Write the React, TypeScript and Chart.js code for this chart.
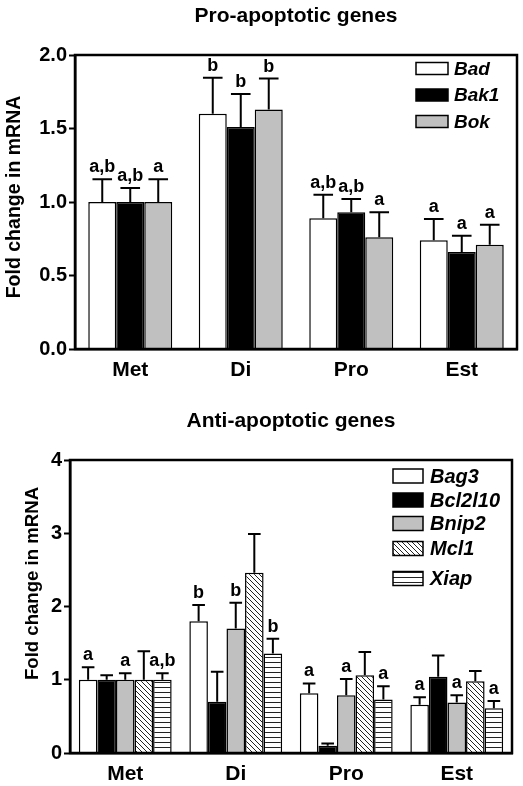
import React, { useEffect, useRef } from 'react';
import { Chart, registerables } from 'chart.js';

Chart.register(...registerables);

const FONT = '"Liberation Sans", Arial, Helvetica, sans-serif';

// ---------- data ----------
const categories = ['Met', 'Di', 'Pro', 'Est'];

// Pro-apoptotic genes
const proTitle = 'Pro-apoptotic genes';
const proGenes = ['Bad', 'Bak1', 'Bok'];
const badMean = [1.0, 1.6, 0.89, 0.74];
const badErr = [0.155, 0.245, 0.16, 0.145];
const badLetters = ['a,b', 'b', 'a,b', 'a'];
const bak1Mean = [1.0, 1.51, 0.93, 0.66];
const bak1Err = [0.095, 0.225, 0.09, 0.11];
const bak1Letters = ['a,b', 'b', 'a,b', 'a'];
const bokMean = [1.0, 1.63, 0.76, 0.71];
const bokErr = [0.155, 0.21, 0.17, 0.135];
const bokLetters = ['a', 'b', 'a', 'a'];
const proTicks = [0, 0.5, 1.0, 1.5, 2.0];

// Anti-apoptotic genes
const antiTitle = 'Anti-apoptotic genes';
const antiGenes = ['Bag3', 'Bcl2l10', 'Bnip2', 'Mcl1', 'Xiap'];
const bag3Mean = [1.0, 1.8, 0.815, 0.66];
const bag3Err = [0.17, 0.22, 0.135, 0.1];
const bag3Letters = ['a', 'b', 'a', 'a'];
const bcl2l10Mean = [1.0, 0.7, 0.1, 1.04];
const bcl2l10Err = [0.06, 0.41, 0.03, 0.29];
const bcl2l10Letters = ['', '', '', ''];
const bnip2Mean = [1.0, 1.7, 0.79, 0.69];
const bnip2Err = [0.09, 0.35, 0.22, 0.1];
const bnip2Letters = ['a', 'b', 'a', 'a'];
const mcl1Mean = [1.0, 2.46, 1.06, 0.98];
const mcl1Err = [0.39, 0.53, 0.32, 0.14];
const mcl1Letters = ['', '', '', ''];
const xiapMean = [1.0, 1.36, 0.73, 0.61];
const xiapErr = [0.09, 0.2, 0.18, 0.1];
const xiapLetters = ['a,b', 'b', 'a', 'a'];
const antiTicks = [0, 1, 2, 3, 4];

const yTitle = 'Fold change in mRNA';

// ---------- helpers ----------
function makePattern(ctx: CanvasRenderingContext2D, kind: 'diag' | 'horiz') {
  const c = document.createElement('canvas');
  const s = 5;
  c.width = s;
  c.height = s;
  const g = c.getContext('2d')!;
  g.fillStyle = '#ffffff';
  g.fillRect(0, 0, s, s);
  g.strokeStyle = '#222222';
  g.lineWidth = 1;
  g.beginPath();
  if (kind === 'diag') {
    g.moveTo(-1, -1);
    g.lineTo(s + 1, s + 1);
    g.moveTo(-1, s - 1);
    g.lineTo(1, s + 1);
    g.moveTo(s - 1, -1);
    g.lineTo(s + 1, 1);
  } else {
    g.moveTo(0, 2.5);
    g.lineTo(s, 2.5);
  }
  g.stroke();
  return ctx.createPattern(c, 'repeat')!;
}

const errorBarPlugin = {
  id: 'errorBars',
  afterDatasetsDraw(chart: any, _args: any, opts: any) {
    const { ctx } = chart;
    const yScale = chart.scales.y;
    chart.data.datasets.forEach((ds: any, i: number) => {
      const meta = chart.getDatasetMeta(i);
      meta.data.forEach((bar: any, j: number) => {
        const mean = ds.data[j];
        const err = ds.errors[j];
        const top = yScale.getPixelForValue(mean + err);
        const { x, y, width } = bar.getProps(['x', 'y', 'width'], true);
        const half = (width * opts.capRatio) / 2;
        ctx.save();
        ctx.strokeStyle = '#000';
        ctx.lineWidth = 2;
        ctx.beginPath();
        ctx.moveTo(x, y);
        ctx.lineTo(x, top);
        ctx.moveTo(x - half, top);
        ctx.lineTo(x + half, top);
        ctx.stroke();
        const letter = ds.letters[j];
        if (letter) {
          ctx.fillStyle = '#000';
          ctx.font = `bold ${opts.letterSize}px ${FONT}`;
          ctx.textAlign = 'center';
          ctx.textBaseline = 'alphabetic';
          ctx.fillText(letter, x, top - opts.letterGap);
        }
        ctx.restore();
      });
    });
  },
};

const framePlugin = {
  id: 'frame',
  afterDatasetsDraw(chart: any) {
    const { ctx, chartArea: a } = chart;
    ctx.save();
    ctx.strokeStyle = '#000';
    ctx.lineWidth = 2.5;
    ctx.strokeRect(a.left, a.top, a.right - a.left, a.bottom - a.top);
    ctx.restore();
  },
};

const titleLegendPlugin = {
  id: 'titleLegend',
  afterDraw(chart: any, _args: any, opts: any) {
    const { ctx, chartArea: a } = chart;
    ctx.save();
    ctx.fillStyle = '#000';
    ctx.font = `bold ${opts.titleSize}px ${FONT}`;
    ctx.textAlign = 'center';
    ctx.textBaseline = 'alphabetic';
    ctx.fillText(opts.title, (a.left + a.right) / 2, opts.titleY);

    // y-axis title
    ctx.save();
    ctx.translate(opts.yTitleX, (a.top + a.bottom) / 2 + opts.yTitleShift);
    ctx.rotate(-Math.PI / 2);
    ctx.font = `bold ${opts.yTitleSize}px ${FONT}`;
    ctx.textAlign = 'center';
    ctx.textBaseline = 'middle';
    ctx.fillText(yTitle, 0, 0);
    ctx.restore();

    chart.data.datasets.forEach((ds: any, i: number) => {
      const cy = opts.rows[i];
      ctx.fillStyle = ds.backgroundColor;
      ctx.fillRect(opts.boxX, cy - opts.boxH / 2, opts.boxW, opts.boxH);
      ctx.strokeStyle = '#000';
      ctx.lineWidth = 1.5;
      ctx.strokeRect(opts.boxX, cy - opts.boxH / 2, opts.boxW, opts.boxH);
      ctx.fillStyle = '#000';
      ctx.font = `italic bold ${opts.fontSize}px ${FONT}`;
      ctx.textAlign = 'left';
      ctx.textBaseline = 'middle';
      ctx.fillText(ds.label, opts.textX, cy + 1);
    });
    ctx.restore();
  },
};

function buildConfig(p: {
  datasets: any[];
  ticks: number[];
  decimals: number;
  catPct: number;
  padding: any;
  yWidth: number;
  xHeight: number;
  capRatio: number;
  legend: any;
}) {
  return {
    type: 'bar',
    data: { labels: categories, datasets: p.datasets },
    plugins: [framePlugin, errorBarPlugin, titleLegendPlugin],
    options: {
      responsive: false,
      animation: false,
      devicePixelRatio: 1,
      layout: { padding: p.padding },
      datasets: {
        bar: {
          barPercentage: 1,
          categoryPercentage: p.catPct,
          borderColor: '#000',
          borderWidth: 1.5,
        },
      },
      scales: {
        x: {
          grid: { display: false, drawTicks: false },
          border: { display: true, color: '#000', width: 2.5 },
          ticks: {
            color: '#000',
            padding: 9,
            font: { family: FONT, size: 21, weight: 'bold' },
          },
          afterFit(scale: any) {
            scale.height = p.xHeight;
          },
        },
        y: {
          min: p.ticks[0],
          max: p.ticks[p.ticks.length - 1],
          afterBuildTicks(scale: any) {
            scale.ticks = p.ticks.map((v) => ({ value: v }));
          },
          grid: {
            drawOnChartArea: false,
            drawTicks: true,
            tickLength: 6,
            tickColor: '#000',
            tickWidth: 2,
          },
          border: { display: true, color: '#000', width: 2.5 },
          ticks: {
            color: '#000',
            padding: 2,
            font: { family: FONT, size: 20, weight: 'bold' },
            callback: (v: any) => Number(v).toFixed(p.decimals),
          },
          title: { display: false },
          afterFit(scale: any) {
            scale.width = p.yWidth;
          },
        },
      },
      plugins: {
        legend: { display: false },
        tooltip: { enabled: false },
        errorBars: { capRatio: p.capRatio, letterSize: 18, letterGap: 7 },
        titleLegend: p.legend,
      },
    },
  } as any;
}

export default function App() {
  const topRef = useRef<HTMLCanvasElement>(null);
  const botRef = useRef<HTMLCanvasElement>(null);

  useEffect(() => {
    const tctx = topRef.current!.getContext('2d')!;
    const bctx = botRef.current!.getContext('2d')!;
    const gray = '#c0c0c0';

    const proSets = [
      { label: proGenes[0], data: badMean, errors: badErr, letters: badLetters, backgroundColor: '#ffffff' },
      { label: proGenes[1], data: bak1Mean, errors: bak1Err, letters: bak1Letters, backgroundColor: '#000000' },
      { label: proGenes[2], data: bokMean, errors: bokErr, letters: bokLetters, backgroundColor: gray },
    ];
    const antiSets = [
      { label: antiGenes[0], data: bag3Mean, errors: bag3Err, letters: bag3Letters, backgroundColor: '#ffffff' },
      { label: antiGenes[1], data: bcl2l10Mean, errors: bcl2l10Err, letters: bcl2l10Letters, backgroundColor: '#000000' },
      { label: antiGenes[2], data: bnip2Mean, errors: bnip2Err, letters: bnip2Letters, backgroundColor: gray },
      { label: antiGenes[3], data: mcl1Mean, errors: mcl1Err, letters: mcl1Letters, backgroundColor: makePattern(bctx, 'diag') },
      { label: antiGenes[4], data: xiapMean, errors: xiapErr, letters: xiapLetters, backgroundColor: makePattern(bctx, 'horiz') },
    ];

    const c1 = new Chart(
      tctx,
      buildConfig({
        datasets: proSets,
        ticks: proTicks,
        decimals: 1,
        catPct: 0.76,
        padding: { top: 55, right: 6, bottom: 0, left: 0 },
        yWidth: 75,
        xHeight: 46,
        capRatio: 0.7,
        legend: {
          title: proTitle,
          titleSize: 21,
          titleY: 22,
          yTitleX: 15,
          yTitleShift: -5,
          yTitleSize: 19.5,
          rows: [68.5, 95, 121.5],
          boxX: 416,
          boxW: 32,
          boxH: 12,
          textX: 454,
          fontSize: 19,
        },
      })
    );
    const c2 = new Chart(
      bctx,
      buildConfig({
        datasets: antiSets,
        ticks: antiTicks,
        decimals: 0,
        catPct: 0.84,
        padding: { top: 65, right: 11, bottom: 0, left: 0 },
        yWidth: 70,
        xHeight: 33,
        capRatio: 0.68,
        legend: {
          title: antiTitle,
          titleSize: 21,
          titleY: 32,
          yTitleX: 32.5,
          yTitleShift: -23,
          yTitleSize: 18.6,
          rows: [81, 105, 128.5, 153.5, 183.5],
          boxX: 393,
          boxW: 30,
          boxH: 14,
          textX: 430,
          fontSize: 20,
        },
      })
    );
    return () => {
      c1.destroy();
      c2.destroy();
    };
  }, []);

  return (
    <div style={{ position: 'absolute', left: 0, top: 0, width: 523, height: 786, background: '#fff' }}>
      <canvas ref={topRef} width={523} height={395} style={{ display: 'block', width: 523, height: 395 }} />
      <canvas ref={botRef} width={523} height={391} style={{ display: 'block', width: 523, height: 391 }} />
    </div>
  );
}
